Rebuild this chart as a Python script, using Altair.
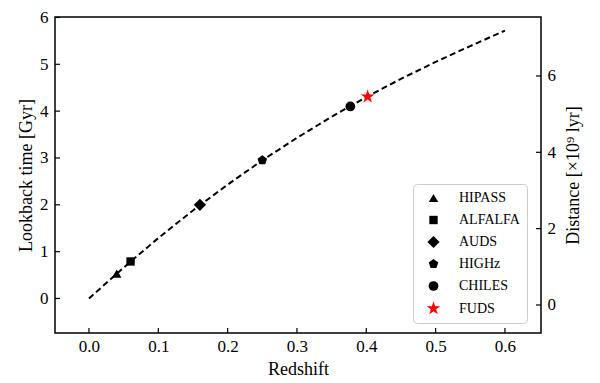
import altair as alt
import pandas as pd

# ---- data ----
z_curve = [0.0, 0.05, 0.10, 0.15, 0.20, 0.25, 0.30, 0.35, 0.40, 0.45, 0.50, 0.55, 0.60]
lookback_curve = [0.0, 0.66, 1.29, 1.88, 2.43, 2.95, 3.43, 3.88, 4.30, 4.69, 5.05, 5.39, 5.72]

surveys = ["HIPASS", "ALFALFA", "AUDS", "HIGHz", "CHILES", "FUDS"]
survey_z = [0.04, 0.06, 0.16, 0.25, 0.377, 0.402]
survey_t = [0.53, 0.79, 2.00, 2.95, 4.10, 4.31]

x_ticks = [0.0, 0.1, 0.2, 0.3, 0.4, 0.5, 0.6]
y_ticks = [0, 1, 2, 3, 4, 5, 6]
dist_ticks = [0, 2, 4, 6]

# ---- styling ----
W, H = 486, 316
FONT = "Liberation Serif"
PENTAGON = "M0,-1L0.951,-0.309L0.588,0.809L-0.588,0.809L-0.951,-0.309Z"
STAR = ("M0,-1L0.2245,-0.309L0.951,-0.309L0.363,0.118L0.588,0.809L0,0.382"
        "L-0.588,0.809L-0.363,0.118L-0.951,-0.309L-0.2245,-0.309Z")
shapes = ["triangle-up", "square", "diamond", PENTAGON, "circle", STAR]
colors = ["black", "black", "black", "black", "black", "#ff0000"]
sizes = [90, 70, 150, 100, 95, 210]

curve_df = pd.DataFrame({"z": z_curve, "t": lookback_curve})
pts_df = pd.DataFrame({"z": survey_z, "t": survey_t, "survey": surveys})
xt_df = pd.DataFrame({"z": x_ticks})
yt_df = pd.DataFrame({"t": y_ticks})
dt_df = pd.DataFrame({"d": dist_ticks})

xscale = alt.Scale(domain=[-0.049, 0.652], nice=False, zero=False)
yscale = alt.Scale(domain=[-0.737, 6.01], nice=False, zero=False)
dscale = alt.Scale(domain=[-0.734, 7.545], nice=False, zero=False)

x_axis = alt.Axis(title="Redshift", values=x_ticks, format=".1f", ticks=False,
                  domain=False, grid=False, labelPadding=5,
                  titleY=36, titleBaseline="middle")
y_axis = alt.Axis(title="Lookback time [Gyr]", values=y_ticks, format="d",
                  ticks=False, domain=False, grid=False, labelPadding=7,
                  titleX=-29, titleBaseline="middle", titleAngle=270)
d_axis = alt.Axis(title="Distance [×10⁹ lyr]", orient="right", values=dist_ticks,
                  format="d", ticks=False, domain=False, grid=False,
                  labelPadding=6, titleX=32, titleBaseline="middle",
                  titleAngle=270)

legend = alt.Legend(title=None, orient="none", legendX=358, legendY=167,
                    padding=7, symbolOffset=6, labelOffset=18, rowPadding=8,
                    fillColor="white", strokeColor="#cccccc", cornerRadius=4,
                    labelFont=FONT, labelFontSize=14, labelColor="black",
                    symbolStrokeWidth=0, labelLimit=200)

curve = alt.Chart(curve_df).mark_line(
    color="black", strokeDash=[6, 3.5], strokeWidth=2
).encode(
    x=alt.X("z:Q", scale=xscale, axis=x_axis),
    y=alt.Y("t:Q", scale=yscale, axis=y_axis),
)

pts = alt.Chart(pts_df).mark_point(filled=True, opacity=1, strokeWidth=0).encode(
    x=alt.X("z:Q", scale=xscale, axis=x_axis),
    y=alt.Y("t:Q", scale=yscale, axis=y_axis),
    shape=alt.Shape("survey:N", scale=alt.Scale(domain=surveys, range=shapes), legend=legend),
    color=alt.Color("survey:N", scale=alt.Scale(domain=surveys, range=colors), legend=legend),
    size=alt.Size("survey:N", scale=alt.Scale(type="ordinal", domain=surveys, range=sizes),
                  legend=legend),
)

left_ticks = alt.Chart(yt_df).mark_rule(color="black", strokeWidth=1.2).encode(
    y=alt.Y("t:Q", scale=yscale, axis=y_axis),
    x=alt.value(0), x2=alt.value(5),
)
bottom_ticks = alt.Chart(xt_df).mark_rule(color="black", strokeWidth=1.2).encode(
    x=alt.X("z:Q", scale=xscale, axis=x_axis),
    y=alt.value(H), y2=alt.value(H - 5),
)
right_ticks = alt.Chart(dt_df).mark_rule(color="black", strokeWidth=1.2).encode(
    y=alt.Y("d:Q", scale=dscale, axis=d_axis),
    x=alt.value(W - 5), x2=alt.value(W),
)

main = alt.layer(curve, pts, left_ticks, bottom_ticks)
chart = alt.layer(main, right_ticks).resolve_scale(y="independent").properties(
    width=W, height=H,
    autosize=alt.AutoSizeParams(type="none"),
    padding={"left": 47, "top": 9, "right": 50, "bottom": 52},
).configure_view(
    stroke="black", strokeWidth=1.5
).configure_axis(
    labelFont=FONT, labelFontSize=17, labelColor="black",
    titleFont=FONT, titleFontSize=18, titleFontWeight="normal", titleColor="black",
)

chart.save("out.html", embed_options={"renderer": "svg", "actions": False})
